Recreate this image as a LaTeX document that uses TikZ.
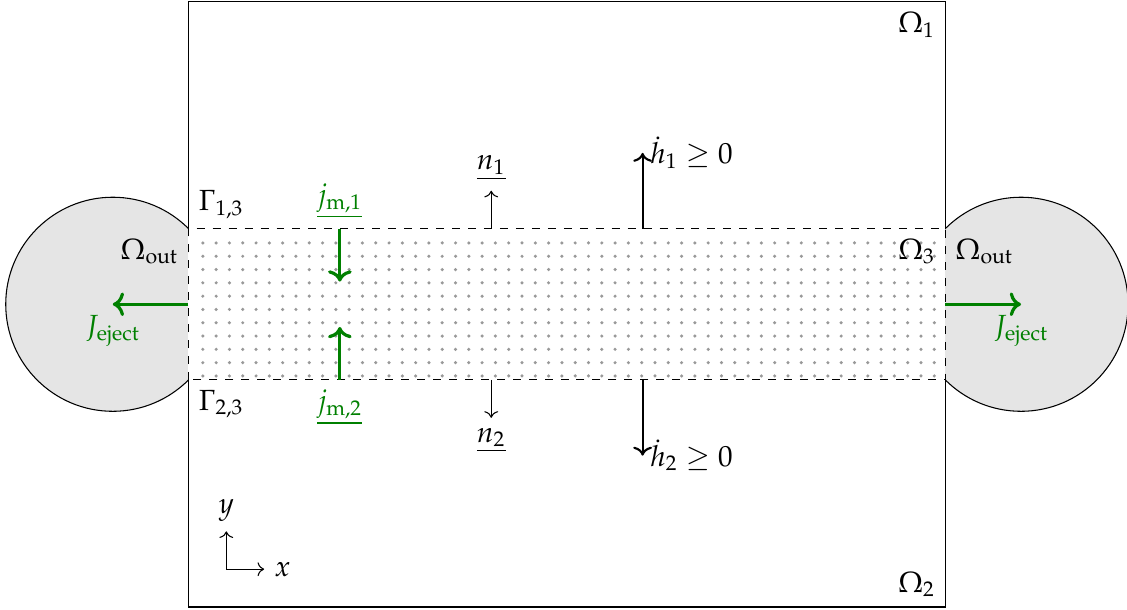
\documentclass[tikz,border=0pt,11pt]{standalone}
\usepackage{amsmath}
\usepackage{amssymb}
\usepackage{mathpazo}
\usetikzlibrary{arrows.meta, positioning, calc}
\definecolor{ejectgreen}{HTML}{008000}

\begin{document}
\begin{tikzpicture}[
  outer/.style={draw=black, fill=gray!20},
  layer/.style={draw=black, dashed},
  flux/.style={->, very thick, color=ejectgreen},
  normal/.style={->, thin},
  growth/.style={->, thick},
  lbl/.style={inner sep=2.5pt}
]
  \useasboundingbox (-2.49,-0.03) rectangle (12.40,8.02);

  % Outer domains
  \draw[outer] (-1,4) circle ({sqrt(2)});
  \draw[outer] (11,4) circle ({sqrt(2)});
  \fill[white] (0,0) rectangle (10,8);

  % Bulk domains and layer
  \draw (0,5) -- (0,8) -- (10,8) -- (10,5);
  \draw (10,3) -- (10,0) -- (0,0) -- (0,3);
  \foreach \i in {0,...,55}{
    \foreach \j in {0,...,10}{
      \fill[gray!80] ({0.19+\i*0.1757},{3.053+\j*0.1757}) circle (0.65pt);
    }
  }
  \draw[layer] (0,3) rectangle (10,5);

  % Labels of domains
  \node[below left]  (om1)   at (10,8) {$\Omega_1$};
  \node[above left]  (om2)   at (10,0) {$\Omega_2$};
  \node[below left]  (om3)   at (10,5) {$\Omega_3$};
  \node[below left]  (outL)  at (0,5)  {$\Omega_{\mathrm{out}}$};
  \node[below right] (outR)  at (10,5) {$\Omega_{\mathrm{out}}$};
  \node[above right] (gam13) at (0,5)  {$\Gamma_{1,3}$};
  \node[below right] (gam23) at (0,3)  {$\Gamma_{2,3}$};

  % Coordinates
  \coordinate (ejL)  at (0,4);   \coordinate (ejLe) at (-1,4);
  \coordinate (ejR)  at (10,4);  \coordinate (ejRe) at (11,4);
  \coordinate (jm1)  at (2,5);   \coordinate (jm1e) at (2,4.3);
  \coordinate (jm2)  at (2,3);   \coordinate (jm2e) at (2,3.7);
  \coordinate (n1)   at (4,5);   \coordinate (n1e)  at (4,5.5);
  \coordinate (n2)   at (4,3);   \coordinate (n2e)  at (4,2.5);
  \coordinate (h1)   at (6,5);   \coordinate (h1e)  at (6,6);
  \coordinate (h2)   at (6,3);   \coordinate (h2e)  at (6,2);
  \coordinate (orig) at (0.5,0.5);
  \coordinate (xax)  at (1,0.5); \coordinate (yax)  at (0.5,1);

  % Fluxes
  \draw[flux] (ejL) -- (ejLe) node[below, ejectgreen] (ejectL) {$J_{\mathrm{eject}}$};
  \draw[flux] (ejR) -- (ejRe) node[below, ejectgreen] (ejectR) {$J_{\mathrm{eject}}$};
  \draw[flux] (jm1) -- (jm1e);
  \draw[flux] (jm2) -- (jm2e);
  \node[above, ejectgreen] (jm1lbl) at (jm1) {$\underline{j_{\mathrm{m},1}}$};
  \node[below, ejectgreen] (jm2lbl) at (jm2) {$\underline{j_{\mathrm{m},2}}$};

  % Normals and growth
  \draw[normal] (n1) -- (n1e) node[above] (n1lbl) {$\underline{n_1}$};
  \draw[normal] (n2) -- (n2e) node[below] (n2lbl) {$\underline{n_2}$};
  \draw[growth] (h1) -- (h1e) node[right, lbl] (h1lbl) {$\dot h_1 \geq 0$};
  \draw[growth] (h2) -- (h2e) node[right, lbl] (h2lbl) {$\dot h_2 \geq 0$};

  % Axes
  \draw[normal] (orig) -- (xax) node[right] (xlbl) {$x$};
  \draw[normal] (orig) -- (yax) node[above] (ylbl) {$y$};
\end{tikzpicture}
\end{document}
